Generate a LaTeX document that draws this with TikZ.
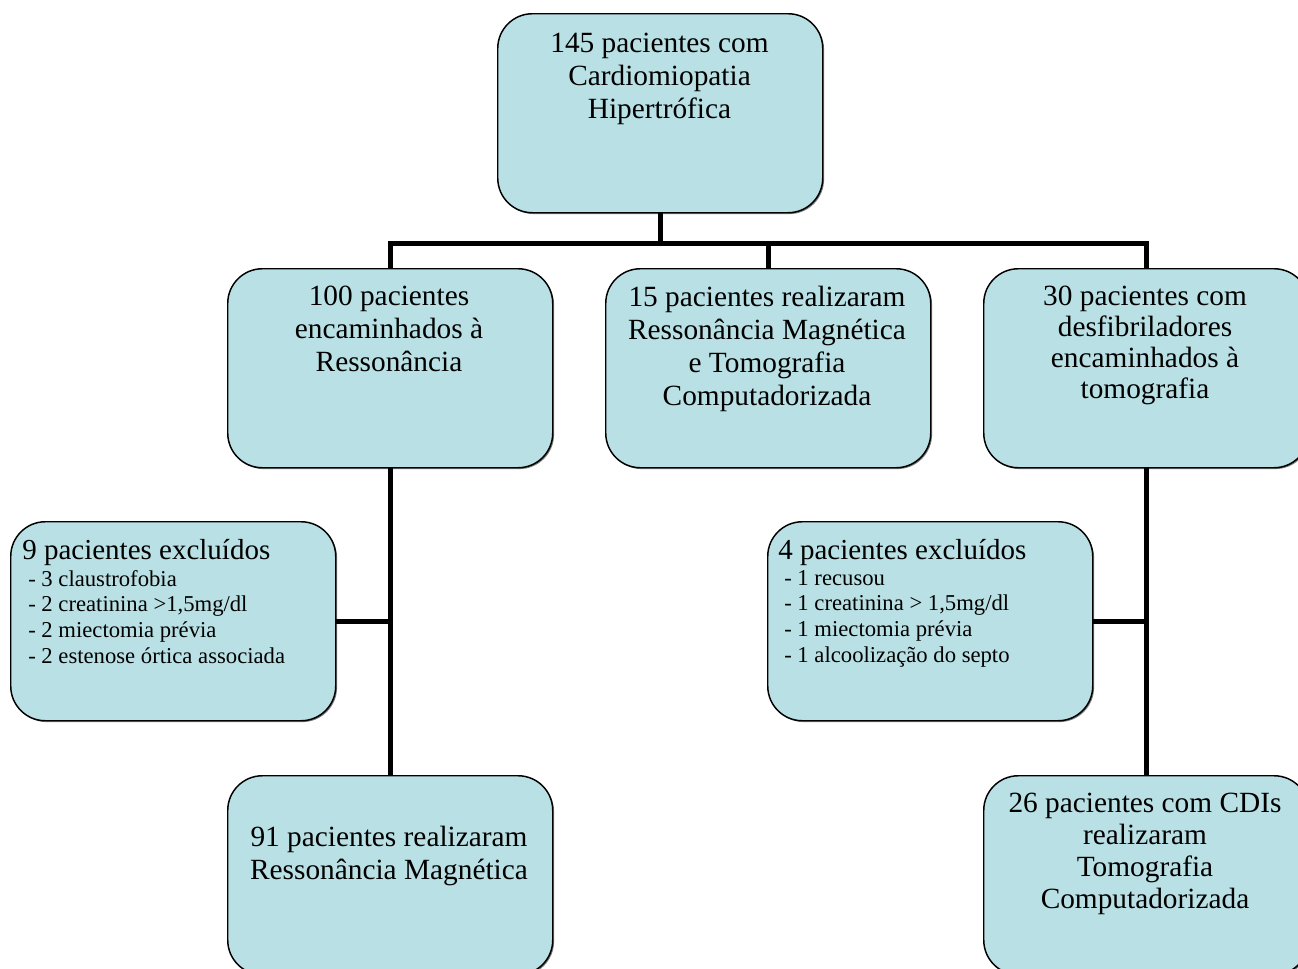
\documentclass[tikz,border=0pt]{standalone}
\usepackage{fontspec}
\setmainfont{Liberation Serif}
\usetikzlibrary{shadows}
\definecolor{boxfill}{RGB}{185,224,228}
\definecolor{shade}{RGB}{90,90,90}
\begin{document}
\begin{tikzpicture}[x=0.75pt,y=-0.75pt,
  box/.style={draw=black, line width=1.1pt, rounded corners=26pt, fill=boxfill,
    minimum width=243.75pt, minimum height=149.25pt, inner sep=0pt, anchor=north west,
    drop shadow={shadow xshift=1pt, shadow yshift=-1pt, fill=shade, opacity=0.8}},
  big/.style={anchor=north, align=center, inner sep=0pt,
    font=\fontsize{22}{24.75}\selectfont},
  title/.style={anchor=base west, inner sep=0pt, font=\fontsize{21.75}{24}\selectfont},
  small/.style={anchor=north west, align=left, inner sep=0pt,
    font=\fontsize{17}{19.3}\selectfont},
  conn/.style={line width=3.75pt, draw=black}]
\useasboundingbox (0,0) rectangle (1298,968);
\clip (0,0) rectangle (1298,968);
% boxes
\node[box] (top) at (497,13) {};
\node[box] (b1) at (227,268) {};
\node[box] (b2) at (605,268) {};
\node[box] (b3) at (983,268) {};
\node[box] (e1) at (10,521) {};
\node[box] (e2) at (767,521) {};
\node[box] (b4) at (227,775) {};
\node[box] (b5) at (983,775) {};
% connectors
\coordinate (jt) at ([yshift=-22.5pt]top.south);
\draw[conn] (top.south) -- (jt);
\draw[conn] (b1.north) -- (b1.north |- jt) -- (b3.north |- jt) -- (b3.north);
\draw[conn] (b2.north) -- (b2.north |- jt);
\draw[conn] (b1.south) -- (b4.north);
\draw[conn] (e1.east) -- (e1.east -| b1.south);
\draw[conn] (b3.south) -- (b5.north);
\draw[conn] (e2.east) -- (e2.east -| b3.south);
% texts
\node[big] (ttop) at (659.5,33) {145 pacientes com\\Cardiomiopatia\\Hipertrófica};
\node[big] (tb1) at (389,286) {100 pacientes\\encaminhados à\\Ressonância};
\node[big] (tb2) at (767,286) {15 pacientes realizaram\\Ressonância Magnética\\e Tomografia\\Computadorizada};
\node[big, font=\fontsize{22}{23.25}\selectfont] (tb3) at (1145,286) {30 pacientes com\\desfibriladores\\encaminhados à\\tomografia};
\node[big] (tb4) at (389,826) {91 pacientes realizaram\\Ressonância Magnética};
\node[big, font=\fontsize{22}{24}\selectfont] (tb5) at (1145,793) {26 pacientes com CDIs\\realizaram\\Tomografia\\Computadorizada};
\node[title] (te1) at (22,559) {9 pacientes excluídos};
\node[small] (le1) at (28,570) {- 3 claustrofobia\\- 2 creatinina >1,5mg/dl\\- 2 miectomia prévia\\- 2 estenose órtica associada};
\node[title] (te2) at (778,559) {4 pacientes excluídos};
\node[small] (le2) at (784,570) {- 1 recusou\\- 1 creatinina > 1,5mg/dl\\- 1 miectomia prévia\\- 1 alcoolização do septo};
\end{tikzpicture}
\end{document}
